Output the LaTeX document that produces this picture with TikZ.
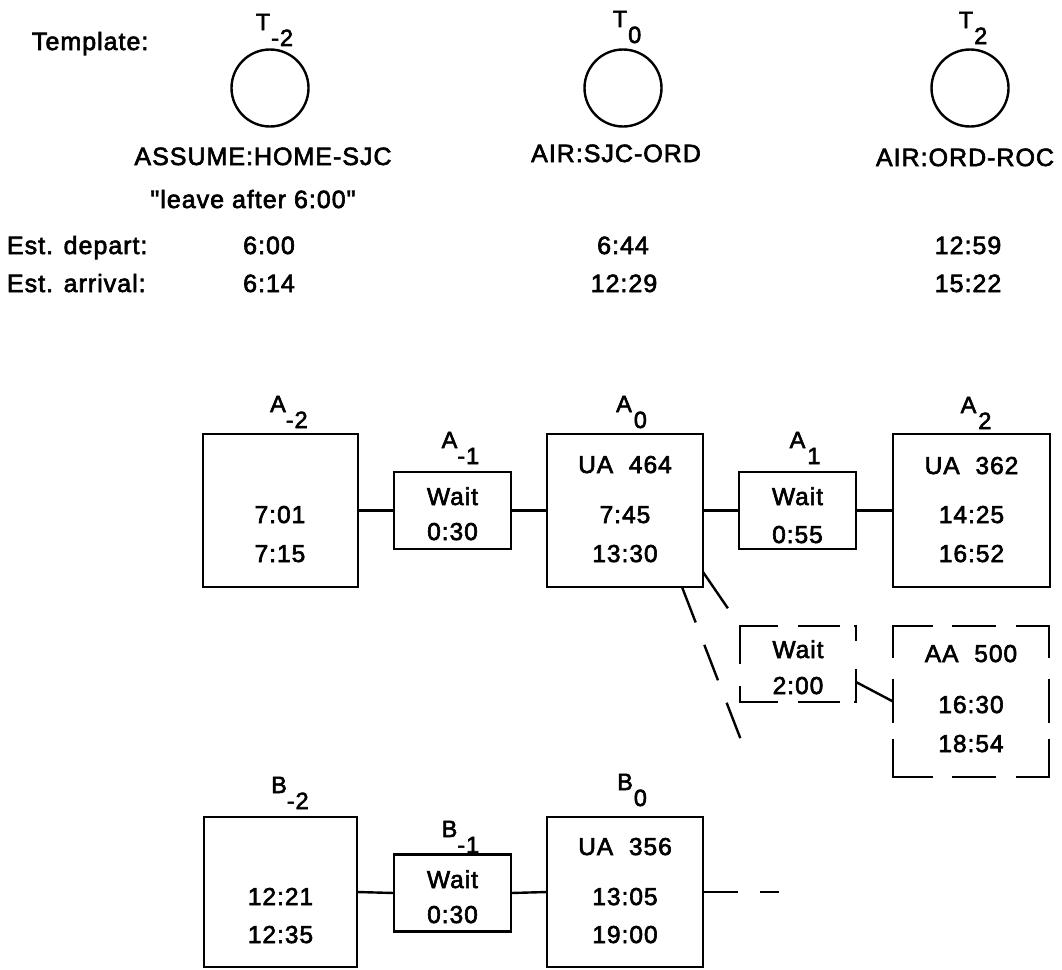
\documentclass[tikz,border=0pt]{standalone}
\usepackage{fontspec}
\setmainfont{Liberation Sans}[LetterSpace=4, FakeBold=2.5]
\newfontfamily\qfont{Liberation Sans}[LetterSpace=4, FakeBold=2.5]
\usetikzlibrary{calc}
\newcommand{\mylab}[3][1pt]{#2\rlap{\kern#1\raisebox{-16pt}{#3}}}
\tikzset{
  every node/.style={inner sep=0pt, outer sep=0pt},
  ln/.style={line width=2.4pt},
  boxs/.style={draw, rectangle, line width=2.6pt},
  dbox/.style={rectangle, draw=none},
  dedge/.style={line width=2.6pt, line cap=rect},
  circ/.style={draw, circle, line width=2.4pt, minimum size=77pt},
  toptxt/.style={font=\fontsize{25}{30}\selectfont, anchor=base},
  bt/.style={font=\fontsize{24.5}{29}\selectfont, anchor=base},
  lbl/.style={font=\fontsize{23.5}{28}\selectfont, anchor=base},
}
\begin{document}
\begin{tikzpicture}[x=1pt,y=-1pt]
\useasboundingbox (0,0) rectangle (1062,969);

% ---------- Template ----------
\node[toptxt, anchor=base west] (tmpl) at (32,50) {Template:};
\node[circ] (tm2) at (270,88) {};
\node[circ] (t0) at (623,88) {};
\node[circ] (t2) at (970,88) {};
\node[lbl] (ltm2) at (263,30) {\mylab{T}{-2}};
\node[lbl] (lt0) at (620,27) {\mylab{T}{0}};
\node[lbl] (lt2) at (966,28) {\mylab{T}{2}};

\node[toptxt] (nm2) at (263,165) {ASSUME:HOME-SJC};
\node[toptxt] (nleave) at (253,208) {\qfont "leave after 6:00"};
\node[toptxt] (n0) at (616,162) {AIR:SJC-ORD};
\node[toptxt] (n2) at (965,166) {AIR:ORD-ROC};

\node[toptxt, anchor=base west] (ed) at (7,254) {Est. depart:};
\node[toptxt, anchor=base west] (ea) at (7,292) {Est. arrival:};
\node[toptxt] (dm2) at (269,254) {6:00};
\node[toptxt] (am2) at (269,292) {6:14};
\node[toptxt] (d0) at (623,254) {6:44};
\node[toptxt] (a0t) at (624,292) {12:29};
\node[toptxt] (d2) at (968,254) {12:59};
\node[toptxt] (a2t) at (968,292) {15:22};

% ---------- Row A ----------
\node[boxs, minimum width=155pt, minimum height=153pt] (Am2) at (280.5,510.5) {};
\node[boxs, minimum width=117pt, minimum height=77pt] (Am1) at (452.5,510.5) {};
\node[boxs, minimum width=156pt, minimum height=153pt] (A0) at (625,510.5) {};
\node[boxs, minimum width=117pt, minimum height=77pt] (A1) at (797.5,510.5) {};
\node[boxs, minimum width=157pt, minimum height=153pt] (A2) at (971.5,510.5) {};

\node[lbl] (lAm2) at (278,412) {\mylab[0pt]{A}{-2}};
\node[lbl] (lAm1) at (449.5,448) {\mylab[0pt]{A}{-1}};
\node[lbl] (lA0) at (624,412) {\mylab[2pt]{A}{0}};
\node[lbl] (lA1) at (797.5,448) {\mylab[2pt]{A}{1}};
\node[lbl] (lA2) at (968.5,413) {\mylab[2pt]{A}{2}};

\node[bt] (Am2a) at (280,523) {7:01};
\node[bt] (Am2b) at (280,562) {7:15};
\node[bt] (Am1a) at (452.5,505) {Wait};
\node[bt] (Am1b) at (452.5,540) {0:30};
\node[bt] (A0a) at (625,473) {UA\hspace{8pt} 464};
\node[bt] (A0b) at (625,523) {7:45};
\node[bt] (A0c) at (625,562) {13:30};
\node[bt] (A1a) at (797.5,505) {Wait};
\node[bt] (A1b) at (797.5,543) {0:55};
\node[bt] (A2a) at (971.5,474) {UA\hspace{8pt} 362};
\node[bt] (A2b) at (971.5,523) {14:25};
\node[bt] (A2c) at (971.5,562) {16:52};

\draw[ln] (Am2.east) -- (Am1.west);
\draw[ln] (Am1.east) -- (A0.west);
\draw[ln] (A0.east) -- (A1.west);
\draw[ln] (A1.east) -- (A2.west);

% ---------- alternative (dashed) ----------
\node[dbox, minimum width=116pt, minimum height=76pt] (W2) at (798,664) {};
\node[dbox, minimum width=156pt, minimum height=151pt] (AA) at (971,701.5) {};
\draw[dedge, dash pattern=on 37pt off 22pt on 40pt off 16pt on 30pt] (W2.north west) -- (W2.north east);
\draw[dedge, dash pattern=on 37pt off 22pt on 40pt off 16pt on 30pt] (W2.south west) -- (W2.south east);
\draw[dedge, dash pattern=on 37pt off 24pt on 40pt] (W2.north west) -- (W2.south west);
\draw[dedge, dash pattern=on 14pt off 30pt on 40pt] (W2.north east) -- (W2.south east);
\draw[dedge, dash pattern=on 39pt off 21pt on 42pt off 22pt on 50pt] (AA.north west) -- (AA.north east);
\draw[dedge, dash pattern=on 39pt off 21pt on 42pt off 22pt on 50pt] (AA.south west) -- (AA.south east);
\draw[dedge, dash pattern=on 31pt off 23pt on 42pt off 18pt on 50pt] (AA.north west) -- (AA.south west);
\draw[dedge, dash pattern=on 31pt off 23pt on 42pt off 18pt on 50pt] (AA.north east) -- (AA.south east);

\node[bt] (W2a) at (798,658) {Wait};
\node[bt] (W2b) at (798,694) {2:00};
\node[bt] (AAa) at (971,662) {AA\hspace{8pt} 500};
\node[bt] (AAb) at (971,713) {16:30};
\node[bt] (AAc) at (971,752) {18:54};

\draw[ln] ([yshift=-18pt]W2.east) -- (AA.west);
\coordinate (alt) at (741,740);
\draw[ln, dash pattern=on 44pt off 40pt] ([yshift=-61.5pt]A0.east) -- (W2.north west);
\draw[ln, dash pattern=on 38pt off 24pt] ([xshift=57pt]A0.south) -- (alt);

% ---------- Row B ----------
\node[boxs, minimum width=153pt, minimum height=150pt] (Bm2) at (280.5,892) {};
\node[boxs, minimum width=117pt, minimum height=77pt] (Bm1) at (452.5,893) {};
\node[boxs, minimum width=156pt, minimum height=150pt] (B0) at (625,892) {};

\node[lbl] (lBm2) at (279,793) {\mylab[0pt]{B}{-2}};
\node[lbl] (lBm1) at (449.5,837) {\mylab[0pt]{B}{-1}};
\node[lbl] (lB0) at (625,790) {\mylab[1pt]{B}{0}};

\node[bt] (Bm2a) at (280.5,905) {12:21};
\node[bt] (Bm2b) at (280.5,943) {12:35};
\node[bt] (Bm1a) at (452.5,888) {Wait};
\node[bt] (Bm1b) at (452.5,923) {0:30};
\node[bt] (B0a) at (625,855) {UA\hspace{8pt} 356};
\node[bt] (B0b) at (625,905) {13:05};
\node[bt] (B0c) at (625,943) {19:00};

\draw[ln] (Bm2.east) -- (Bm1.west);
\draw[ln] (Bm1.east) -- (B0.west);
\coordinate (bnext) at (779,892);
\draw[ln, dash pattern=on 35pt off 22pt on 30pt] (B0.east) -- (bnext);
\end{tikzpicture}
\end{document}
